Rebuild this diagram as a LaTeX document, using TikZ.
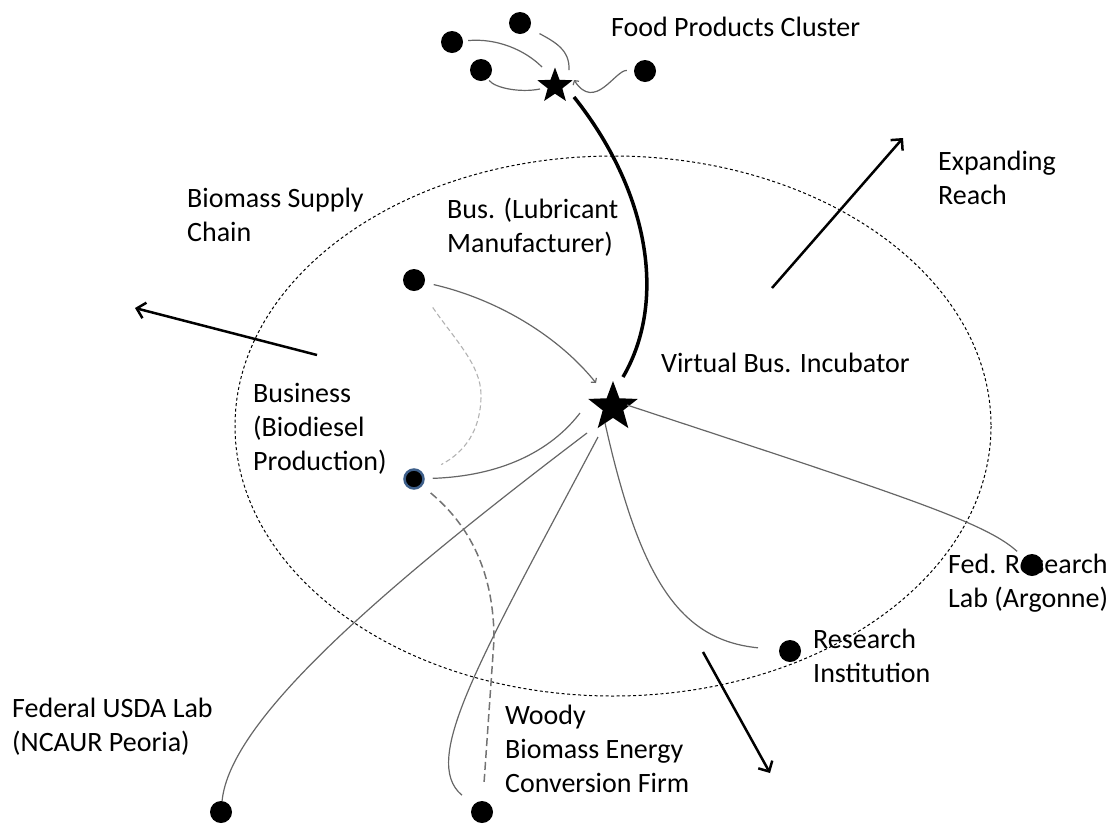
\documentclass[tikz,border=0pt]{standalone}
\usepackage{fontspec}
\setmainfont{Carlito}
\usepackage{tikz}
\usetikzlibrary{shapes.geometric,arrows.meta,positioning}

\definecolor{dotblue}{HTML}{3E5F8A}

\begin{document}
\begin{tikzpicture}[%
    x=1pt, y=-1pt,
    >={Straight Barb[length=8pt,width=16pt]},
    dot/.style={circle, fill=black, inner sep=0pt, minimum size=22pt},
    hubstar/.style={star, star points=5, star point ratio=2.4,
      fill=black, inner sep=0pt},
    link/.style={draw=black!60, line width=1.2pt},
    faint/.style={draw=black!30, line width=1.1pt, dash pattern=on 5pt off 3pt},
    darkdash/.style={draw=black!55, line width=1.5pt, dash pattern=on 8pt off 4pt},
    reach/.style={->, line width=2.5pt},
    small/.style={-{Straight Barb[length=3pt,width=7pt]}},
    txt/.style={font=\fontsize{28}{34}\selectfont, align=left,
      anchor=base west, inner sep=0pt}
  ]
  \useasboundingbox (0,0) rectangle (1115,823);

  % reach of the incubator
  \draw[dash pattern=on 3pt off 2.5pt, line width=1pt]
    (613,426) ellipse [x radius=378, y radius=270];

  % labels (base = last line)
  \node[txt] (fpc) at (611,36) {Food Products Cluster};
  \node[txt] (bsc) at (187,241) {Biomass Supply\\Chain};
  \node[txt] (lubetxt) at (447,252) {Bus. (Lubricant\\Manufacturer)};
  \node[txt] (exptxt) at (938,204) {Expanding\\Reach};
  \node[txt] (hubtxt) at (661,372) {Virtual Bus. Incubator};
  \node[txt] (biotxt) at (253,470) {Business\\(Biodiesel\\Production)};
  \node[txt] (argtxt) at (948,607) {Fed. Research\\Lab (Argonne)};
  \node[txt] (insttxt) at (813,682) {Research\\Institution};
  \node[txt] (usdatxt) at (12,751) {Federal USDA Lab\\(NCAUR Peoria)};
  \node[txt] (woodytxt) at (505,792) {Woody\\Biomass Energy\\Conversion Firm};

  % actors
  \node[hubstar, minimum size=37pt] (cluster) at (555,86) {};
  \node[dot] (fp1) at (452,42) {};
  \node[dot] (fp2) at (520,23) {};
  \node[dot] (fp3) at (481,70) {};
  \node[dot] (fp4) at (645,71) {};
  \node[hubstar, minimum size=52pt] (hub) at (613,407) {};
  \node[dot] (lube) at (414,280) {};
  \node[dot, draw=dotblue, line width=2.5pt, minimum size=19pt] (biodiesel) at (414,479) {};
  \node[dot] (usda) at (221,812) {};
  \node[dot] (woody) at (482,812) {};
  \node[dot] (inst) at (790,651) {};
  \node[dot] (argonne) at (1032,565) {};

  % food products cluster links
  \draw[link, shorten <=5pt] (fp1) .. controls (497,38) and (525,50)
    .. ([xshift=-13pt,yshift=19pt]cluster.center);
  \draw[link, shorten <=11pt] (fp2) .. controls (555,42) and (570,50)
    .. ([xshift=14pt,yshift=16pt]cluster.center);
  \draw[link, shorten <=2pt] (fp3) .. controls (495,88) and (520,93)
    .. ([xshift=-15pt,yshift=-3pt]cluster.center);
  \draw[link, small, shorten <=7pt] (fp4) .. controls (615,70) and (595,112)
    .. ([xshift=19pt,yshift=6pt]cluster.center);
  \draw[line width=3.5pt] ([xshift=19pt,yshift=-11pt]cluster.center)
    .. controls (648,190) and (668,300) .. ([xshift=10pt,yshift=30pt]hub.center);

  % incubator links
  \draw[link, small, shorten <=9pt] (lube) .. controls (500,300) and (560,338)
    .. ([xshift=-17pt,yshift=24pt]hub.center);
  \draw[faint, shorten <=22pt, shorten >=20pt] (lube)
    .. controls (455,340) and (481,365) .. (481,395)
    .. controls (481,430) and (465,452) .. (biodiesel);
  \draw[link, shorten <=8pt] (biodiesel) .. controls (500,476) and (550,452)
    .. ([xshift=-33pt,yshift=-6pt]hub.center);
  \draw[link] ([xshift=-26pt,yshift=-26pt]hub.center)
    .. controls (380,590) and (230,720) .. (usda);
  \draw[link, shorten >=15pt] ([xshift=-15pt,yshift=-30pt]hub.center)
    .. controls (480,660) and (420,760) .. (woody);
  \draw[darkdash, shorten <=11pt, shorten >=19pt] (biodiesel)
    .. controls (475,530) and (494,580) .. (494,640) -- (woody);
  \draw[link, shorten >=21pt] ([xshift=-8pt,yshift=-16pt]hub.center)
    .. controls (640,580) and (680,640) .. (inst);
  \draw[link, shorten >=9pt] ([xshift=14pt,yshift=2pt]hub.center)
    .. controls (900,495) and (985,522) .. (argonne);

  % growth directions
  \coordinate (bsc1) at (317,355);
  \coordinate (bsc2) at (135,308);
  \coordinate (exp1) at (772,288);
  \coordinate (exp2) at (903,138);
  \coordinate (out1) at (703,652);
  \coordinate (out2) at (770,773);
  \draw[reach] (bsc1) -- (bsc2);
  \draw[reach] (exp1) -- (exp2);
  \draw[reach] (out1) -- (out2);
\end{tikzpicture}
\end{document}
